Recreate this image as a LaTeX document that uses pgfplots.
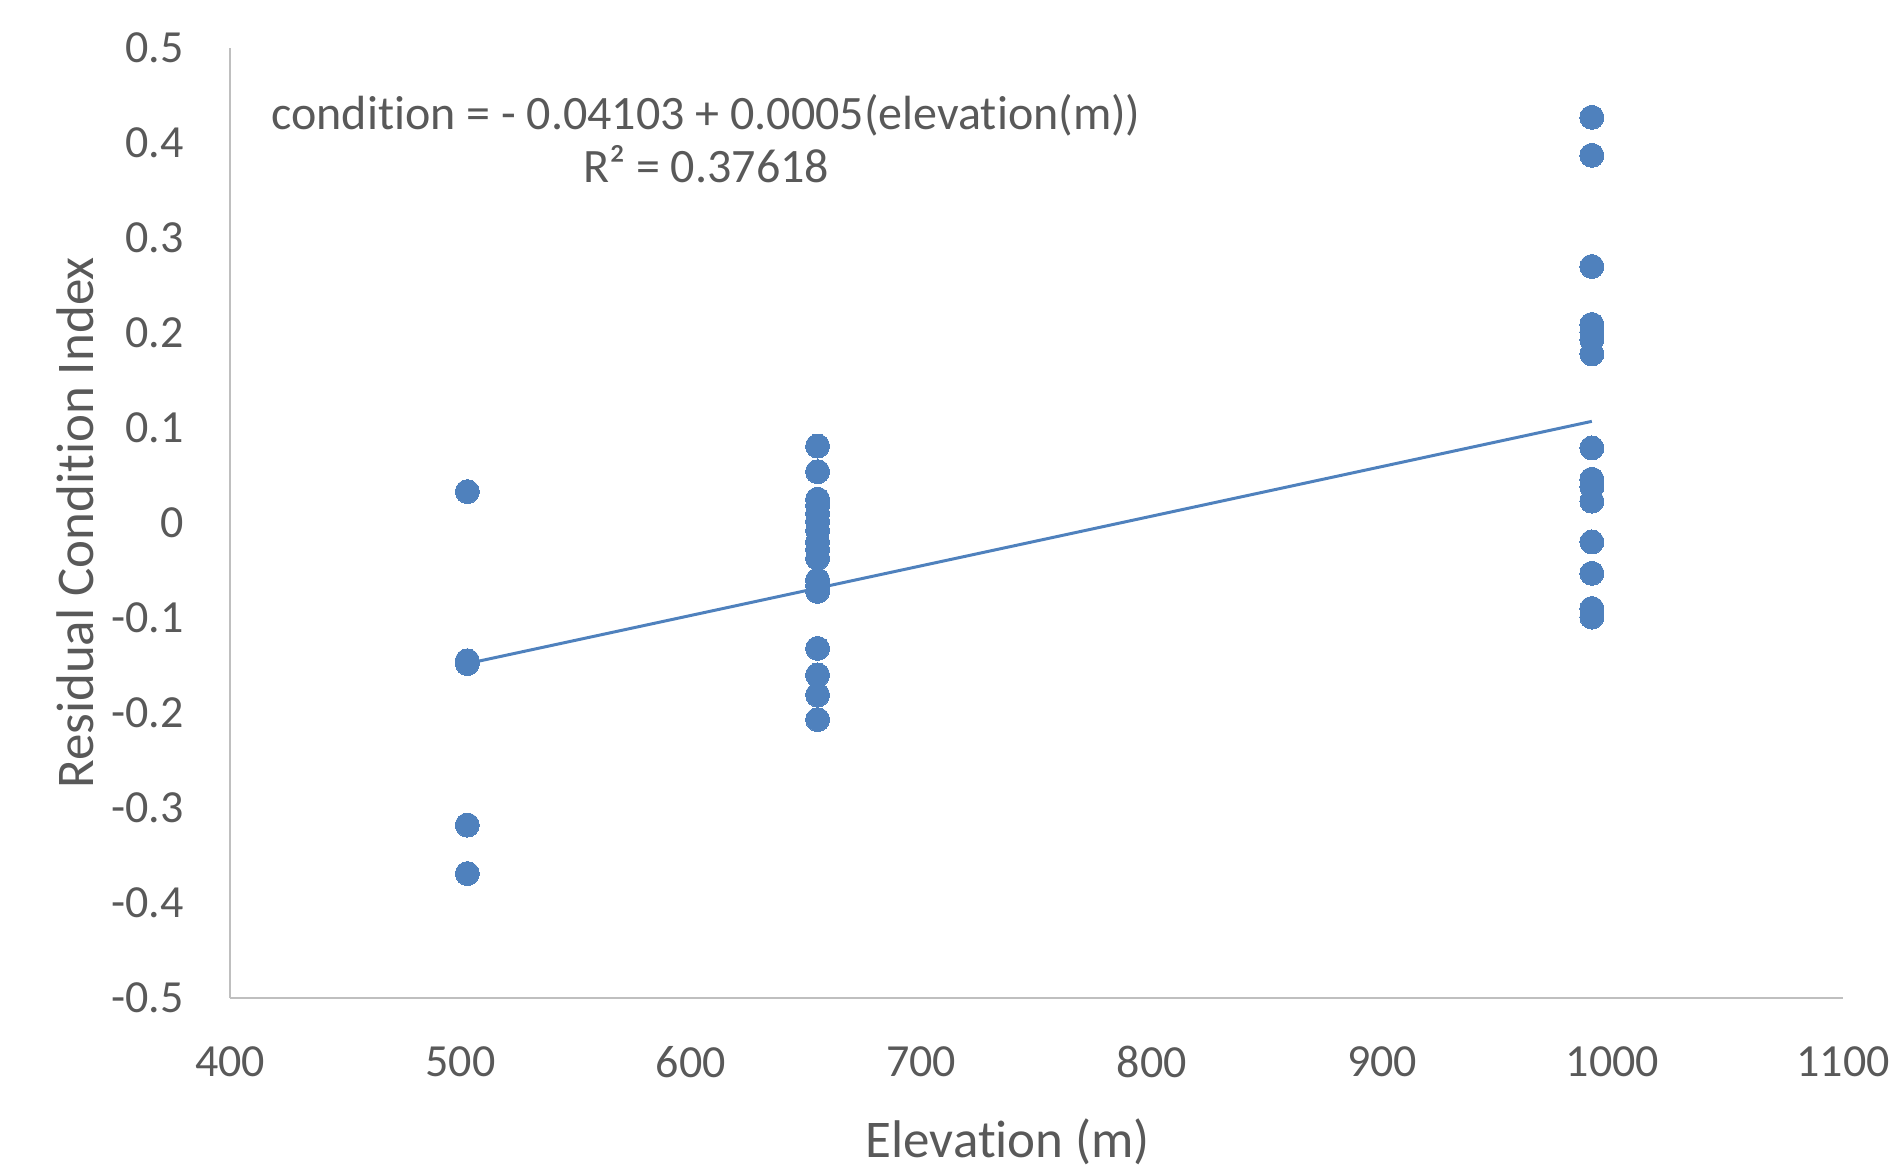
\documentclass[border=0pt]{standalone}
\usepackage{fontspec}
\setmainfont[RawFeature=-liga]{Carlito}
\usepackage{pgfplots}
\pgfplotsset{compat=1.18}
\definecolor{dotblue}{HTML}{4F81BD}
\definecolor{txtgray}{HTML}{595959}
\definecolor{axgray}{HTML}{BFBFBF}
\begin{document}
\begin{tikzpicture}
\useasboundingbox (-115pt,-85pt) rectangle (830pt,499pt);
\begin{axis}[
  scale only axis,
  width=806.5pt, height=475pt,
  xmin=400, xmax=1100, ymin=-0.5, ymax=0.5,
  xtick={400,500,...,1100},
  ytick={-0.5,-0.4,-0.3,-0.2,-0.1,0,0.1,0.2,0.3,0.4,0.5},
  scaled ticks=false,
  axis x line=bottom, axis y line=left,
  axis line style={-, draw=axgray, line width=1pt},
  major tick length=0pt,
  tick style={draw=none},
  /pgf/number format/assume math mode=true,
  /pgf/number format/fixed,
  /pgf/number format/1000 sep={},
  ticklabel style={font=\fontsize{23}{27}\selectfont, text=txtgray},
  y tick label style={anchor=east, inner sep=0pt, xshift=-23pt},
  x tick label style={anchor=north, inner sep=0pt, yshift=-24pt},
  xlabel={Elevation (m)},
  ylabel={Residual Condition Index},
  xlabel style={at={(axis description cs:0.4823,-0.1684)}, anchor=base, font=\fontsize{26.5}{30}\selectfont, text=txtgray, inner sep=0pt},
  ylabel style={at={(axis description cs:-0.0849,0.5)}, rotate=0, anchor=base, font=\fontsize{26.5}{30}\selectfont, text=txtgray, inner sep=0pt},
  clip=false,
]
\addplot[only marks, color=dotblue, mark=*, mark size=6pt, mark options={fill=dotblue, draw=dotblue, line width=0pt}] coordinates {
  (503,0.033) (503,-0.145) (503,-0.148) (503,-0.318) (503,-0.369)
  (655,0.081) (655,0.054) (655,0.025) (655,0.018) (655,0.010) (655,0.002)
  (655,-0.008) (655,-0.020) (655,-0.028) (655,-0.037) (655,-0.060) (655,-0.066)
  (655,-0.072) (655,-0.132) (655,-0.160) (655,-0.181) (655,-0.207)
  (991,0.427) (991,0.387) (991,0.270) (991,0.209) (991,0.201) (991,0.193)
  (991,0.178) (991,0.079) (991,0.046) (991,0.038) (991,0.023) (991,-0.020)
  (991,-0.053) (991,-0.090) (991,-0.099)
};
\addplot[no marks, draw=dotblue, line width=1.5pt] coordinates {(503,-0.148) (991,0.107)};
\node[anchor=base, text=txtgray, inner sep=0pt, font=\fontsize{24}{28}\selectfont] at (axis cs:606.6,0.4147) {condition = - 0.04103 + 0.0005(elevation(m))};
\node[anchor=base, text=txtgray, inner sep=0pt, font=\fontsize{24}{28}\selectfont] at (axis cs:606.6,0.3579) {R² = 0.37618};
\end{axis}
\end{tikzpicture}
\end{document}
